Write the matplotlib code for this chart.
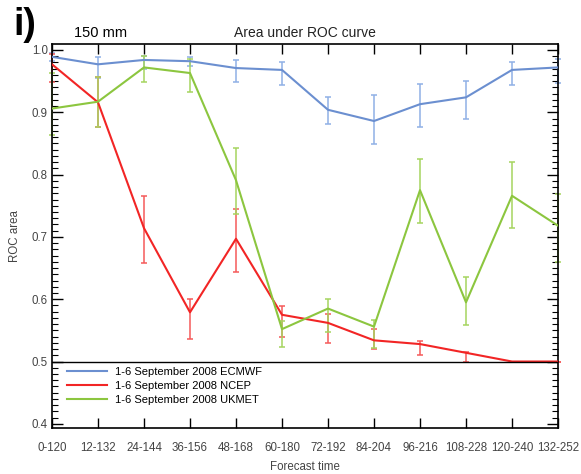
import matplotlib
matplotlib.use("Agg")
import matplotlib.pyplot as plt
from matplotlib.ticker import MultipleLocator
import numpy as np

plt.rcParams['font.family'] = ['Liberation Sans', 'DejaVu Sans']

categories = ["0-120", "12-132", "24-144", "36-156", "48-168", "60-180",
              "72-192", "84-204", "96-216", "108-228", "120-240", "132-252"]

ecmwf = [0.989, 0.977, 0.984, 0.982, 0.971, 0.968, 0.904, 0.886, 0.913, 0.924, 0.968, 0.972]
ecmwf_hi = [0.995, 0.988, 0.991, 0.988, 0.984, 0.980, 0.925, 0.927, 0.945, 0.951, 0.980, 0.985]
ecmwf_lo = [0.983, 0.955, 0.970, 0.975, 0.948, 0.944, 0.882, 0.849, 0.876, 0.890, 0.944, 0.947]

ncep = [0.977, 0.916, 0.714, 0.579, 0.697, 0.575, 0.562, 0.534, 0.528, 0.514, 0.500, 0.500]
ncep_hi = [0.994, 0.956, 0.765, 0.600, 0.745, 0.589, 0.576, 0.552, 0.533, 0.516, 0.500, 0.500]
ncep_lo = [0.949, 0.876, 0.658, 0.536, 0.644, 0.539, 0.529, 0.520, 0.511, 0.500, 0.500, 0.500]

ukmet = [0.906, 0.917, 0.972, 0.963, 0.791, 0.552, 0.585, 0.556, 0.775, 0.595, 0.766, 0.718]
ukmet_hi = [0.963, 0.956, 0.991, 0.986, 0.842, 0.565, 0.600, 0.566, 0.825, 0.635, 0.820, 0.769]
ukmet_lo = [0.864, 0.876, 0.948, 0.932, 0.736, 0.523, 0.547, 0.521, 0.723, 0.558, 0.715, 0.660]

labels = ["1-6 September 2008 ECMWF", "1-6 September 2008 NCEP", "1-6 September 2008 UKMET"]

fig = plt.figure(figsize=(5.81, 4.74), dpi=100)
ax = fig.add_axes([52/581, 1-428/474, (558-52)/581, (428-44)/474])

x = np.arange(len(categories))
series = [
    (ecmwf, ecmwf_lo, ecmwf_hi, "#6b8fd0", "#8fb0e6"),
    (ncep, ncep_lo, ncep_hi, "#f22525", "#f55a5a"),
    (ukmet, ukmet_lo, ukmet_hi, "#8cc63f", "#a6d45f"),
]
handles = []
for (v, lo, hi, c, ec), lab in zip(series, labels):
    v = np.array(v); lo = np.array(lo); hi = np.array(hi)
    ax.errorbar(x, v, yerr=[v - lo, hi - v], fmt='none', ecolor=ec,
                elinewidth=1.1, capsize=2, capthick=1.1, zorder=2, clip_on=False)
    h, = ax.plot(x, v, color=c, lw=1.5, label=lab, zorder=3)
    handles.append(h)

ax.axhline(0.5, color='black', lw=1.0, zorder=4)

ax.set_xlim(0, 11)
ax.set_ylim(0.3933, 1.0096)
ax.set_xticks(x)
ax.set_xticklabels(categories)
ax.yaxis.set_major_locator(MultipleLocator(0.1))
ax.yaxis.set_minor_locator(MultipleLocator(0.01))
ax.yaxis.set_major_formatter(matplotlib.ticker.FormatStrFormatter('%.1f'))

ax.tick_params(axis='x', which='both', direction='in', top=True, bottom=True,
               length=7, width=1.0, labelsize=8.3, labelcolor='#444444', pad=10)
ax.tick_params(axis='y', which='major', direction='in', left=True, right=True,
               length=8, width=1.0, labelsize=8.3, labelcolor='#444444', pad=3)
ax.tick_params(axis='y', which='minor', direction='in', left=True, right=True,
               length=4, width=0.8)
for s in ax.spines.values():
    s.set_linewidth(1.2)

ax.set_xlabel("Forecast time", fontsize=8.3, color='#444444', labelpad=5)
ax.set_ylabel("ROC area", fontsize=8.3, color='#444444', labelpad=8)

leg = ax.legend(handles=handles, loc='upper left', bbox_to_anchor=(0.02, 0.17),
                frameon=False, fontsize=8, handlelength=3.6, handletextpad=0.8,
                labelspacing=0.35, borderaxespad=0)

fig.text(305/581, 1-33/474, "Area under ROC curve", ha='center', va='center',
         fontsize=10, color='#222222')
fig.text(13/581, 1-25/474, "i)", ha='left', va='center', fontsize=27,
         fontweight='bold', color='black')
fig.text(74/581, 1-33/474, "150 mm", ha='left', va='center', fontsize=10.5,
         color='black')

fig.savefig("out.png", dpi=100)
